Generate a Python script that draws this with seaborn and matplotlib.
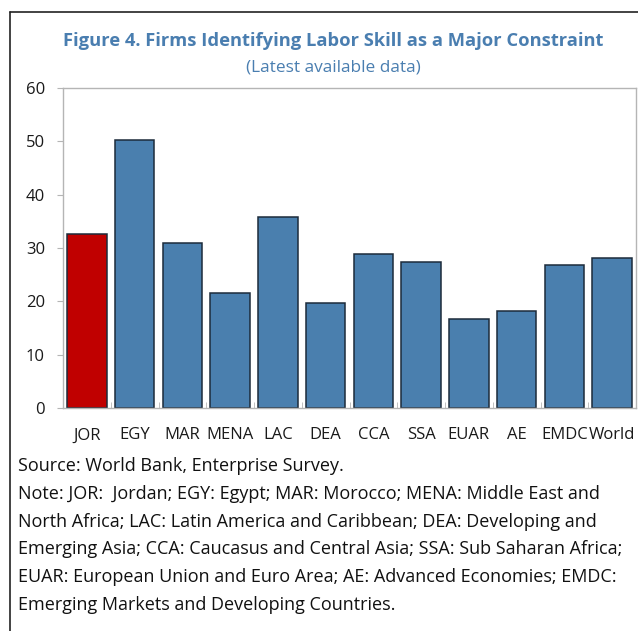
import numpy as np
import matplotlib
matplotlib.use("Agg")
import matplotlib.pyplot as plt
from matplotlib.lines import Line2D
import seaborn as sns

sns.set_style("white")
plt.rcParams['font.family'] = ['Open Sans', 'DejaVu Sans']

countries = ["JOR", "EGY", "MAR", "MENA", "LAC", "DEA", "CCA", "SSA",
             "EUAR", "AE", "EMDC", "World"]
share = [32.6, 50.2, 30.9, 21.6, 35.8, 19.6, 28.9, 27.4, 16.6, 18.1, 26.9, 28.1]
bar_colors = ["#C00000"] + ["#4A7FAE"] * 11

title = "Figure 4. Firms Identifying Labor Skill as a Major Constraint"
subtitle = "(Latest available data)"
source = "Source: World Bank, Enterprise Survey."
note = ("Note: JOR:  Jordan; EGY: Egypt; MAR: Morocco; MENA: Middle East and\n"
        "North Africa; LAC: Latin America and Caribbean; DEA: Developing and\n"
        "Emerging Asia; CCA: Caucasus and Central Asia; SSA: Sub Saharan Africa;\n"
        "EUAR: European Union and Euro Area; AE: Advanced Economies; EMDC:\n"
        "Emerging Markets and Developing Countries.")

W, H = 638, 631
fig = plt.figure(figsize=(W / 100, H / 100), dpi=100)
ax = fig.add_axes([63 / W, 1 - 408 / H, 573 / W, 320 / H])

sns.barplot(x=countries, y=share, hue=countries, palette=bar_colors,
            legend=False, width=0.83, edgecolor="#1c2b3a", linewidth=1.1,
            saturation=1, ax=ax)

ax.set_xlim(-0.5, len(countries) - 0.5)
ax.set_ylim(0, 60)
ax.set_yticks(np.arange(0, 61, 10))
ax.set_xlabel("")
ax.set_ylabel("")
ax.set_xticks(np.arange(-0.5, len(countries)), minor=True)

for sp in ax.spines.values():
    sp.set_visible(True)
    sp.set_color("#b5b5b5")
    sp.set_linewidth(1.0)

ax.tick_params(axis="y", which="major", length=4, color="#b5b5b5",
               labelsize=12, pad=9, left=True, labelcolor="#1a1a1a")
ax.tick_params(axis="x", which="major", length=0, labelsize=12, pad=14,
               labelcolor="#1a1a1a")
ax.tick_params(axis="x", which="minor", length=4, color="#b5b5b5",
               direction="in", bottom=True)

tc = "#4A7EB0"
fig.text(333 / W, 1 - 41 / H, title, ha="center", va="center",
         fontsize=13.25, fontweight="bold", color=tc)
fig.text(333 / W, 1 - 68 / H, subtitle, ha="center", va="center",
         fontsize=12.4, color=tc)

fig.text(18 / W, 1 - 466 / H, source, ha="left", va="center",
         fontsize=13, color="#111111")
fig.text(18 / W, 1 - 485 / H, note, ha="left", va="top",
         fontsize=13, color="#111111", linespacing=1.69)

# outer frame (left and top edges)
fig.add_artist(Line2D([10 / W, 10 / W], [0, 1 - 12 / H],
                      transform=fig.transFigure, color="#222222", lw=1.2))
fig.add_artist(Line2D([10 / W, 1], [1 - 12 / H, 1 - 12 / H],
                      transform=fig.transFigure, color="#222222", lw=1.2))

fig.savefig("out.png", dpi=100)
